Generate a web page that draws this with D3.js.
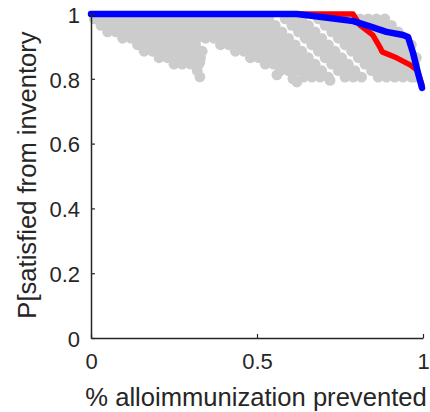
<!DOCTYPE html>
<html><head><meta charset="utf-8">
<script src="https://cdn.jsdelivr.net/npm/d3@7"></script>
<style>html,body{margin:0;padding:0;background:#fff;}svg{display:block;}</style>
</head><body>
<svg id="chart" width="430" height="412"></svg>
<script>
// ---- data ----
const xTicks = [0, 0.5, 1];
const yTicks = [0, 0.2, 0.4, 0.6, 0.8, 1];
const xTickLabels = ["0", "0.5", "1"];
const yTickLabels = ["0", "0.2", "0.4", "0.6", "0.8", "1"];
const xLabel = "% alloimmunization prevented";
const yLabel = "P[satisfied from inventory";

// gray scenario points (diagonal streaks)
const grayStreaks = [
 [[0.01,0.985],[0.03,0.965],[0.05,0.945]],
 [[0.035,0.985],[0.055,0.965],[0.075,0.945],[0.095,0.925]],
 [[0.06,0.985],[0.08,0.965],[0.10,0.945],[0.12,0.925],[0.14,0.905],[0.16,0.885]],
 [[0.085,0.985],[0.105,0.965],[0.125,0.945],[0.145,0.925],[0.165,0.905],[0.185,0.885],[0.205,0.865]],
 [[0.11,0.985],[0.13,0.965],[0.15,0.945],[0.17,0.925],[0.19,0.905],[0.21,0.885],[0.23,0.865],[0.25,0.845]],
 [[0.135,0.985],[0.155,0.965],[0.175,0.945],[0.195,0.925],[0.215,0.905],[0.235,0.885],[0.255,0.865],[0.275,0.845]],
 [[0.16,0.985],[0.18,0.965],[0.20,0.945],[0.22,0.925],[0.24,0.905],[0.26,0.885],[0.28,0.865],[0.30,0.845],[0.32,0.825]],
 [[0.185,0.985],[0.205,0.965],[0.225,0.945],[0.245,0.925],[0.265,0.905],[0.285,0.885],[0.305,0.865],[0.325,0.845]],
 [[0.21,0.985],[0.23,0.965],[0.25,0.945],[0.27,0.925],[0.29,0.905],[0.31,0.885],[0.33,0.865]],
 [[0.235,0.985],[0.255,0.965],[0.275,0.945],[0.295,0.925],[0.315,0.905],[0.335,0.885]],
 [[0.26,0.985],[0.28,0.965],[0.30,0.945],[0.32,0.925]],
 [[0.285,0.985],[0.305,0.965],[0.325,0.945],[0.345,0.925]],
 [[0.31,0.985],[0.33,0.965],[0.35,0.945],[0.37,0.925],[0.39,0.905]],
 [[0.335,0.985],[0.355,0.965],[0.375,0.945],[0.395,0.925],[0.415,0.905],[0.435,0.885]],
 [[0.36,0.985],[0.38,0.965],[0.40,0.945],[0.42,0.925],[0.44,0.905],[0.46,0.885],[0.48,0.865]],
 [[0.385,0.985],[0.405,0.965],[0.425,0.945],[0.445,0.925],[0.465,0.905],[0.485,0.885],[0.505,0.865],[0.525,0.845]],
 [[0.41,0.985],[0.43,0.965],[0.45,0.945],[0.47,0.925],[0.49,0.905],[0.51,0.885],[0.53,0.865],[0.55,0.845],[0.57,0.825]],
 [[0.435,0.985],[0.455,0.965],[0.475,0.945],[0.495,0.925],[0.515,0.905],[0.535,0.885],[0.555,0.865],[0.575,0.845],[0.595,0.825]],
 [[0.46,0.985],[0.48,0.965],[0.50,0.945],[0.52,0.925],[0.54,0.905],[0.56,0.885],[0.58,0.865],[0.60,0.845],[0.62,0.825],[0.64,0.805]],
 [[0.485,0.985],[0.505,0.965],[0.525,0.945],[0.545,0.925],[0.565,0.905],[0.585,0.885],[0.605,0.865],[0.625,0.845],[0.645,0.825],[0.665,0.805]],
 [[0.51,0.985],[0.53,0.965],[0.55,0.945],[0.57,0.925],[0.59,0.905],[0.61,0.885],[0.63,0.865],[0.65,0.845],[0.67,0.825],[0.69,0.805]],
 [[0.535,0.985],[0.555,0.965],[0.575,0.945],[0.595,0.925],[0.615,0.905],[0.635,0.885],[0.655,0.865],[0.675,0.845],[0.695,0.825],[0.715,0.805]],
 [[0.585,0.985],[0.605,0.965],[0.625,0.945],[0.645,0.925],[0.665,0.905],[0.685,0.885],[0.705,0.865],[0.725,0.845],[0.745,0.825],[0.765,0.805]],
 [[0.61,0.985],[0.63,0.965],[0.65,0.945],[0.67,0.925],[0.69,0.905],[0.71,0.885],[0.73,0.865],[0.75,0.845],[0.77,0.825],[0.79,0.805]],
 [[0.635,0.985],[0.655,0.965],[0.675,0.945],[0.695,0.925],[0.715,0.905],[0.735,0.885],[0.755,0.865],[0.775,0.845],[0.795,0.825],[0.815,0.805]],
 [[0.685,0.985],[0.705,0.965],[0.725,0.945],[0.745,0.925],[0.765,0.905],[0.785,0.885],[0.805,0.865],[0.825,0.845],[0.845,0.825],[0.865,0.805]],
 [[0.71,0.985],[0.73,0.965],[0.75,0.945],[0.77,0.925],[0.79,0.905],[0.81,0.885],[0.83,0.865],[0.85,0.845],[0.87,0.825],[0.89,0.805]],
 [[0.735,0.985],[0.755,0.965],[0.775,0.945],[0.795,0.925],[0.815,0.905],[0.835,0.885],[0.855,0.865],[0.875,0.845],[0.895,0.825],[0.915,0.805]],
 [[0.76,0.985],[0.78,0.965],[0.80,0.945],[0.82,0.925],[0.84,0.905],[0.86,0.885],[0.88,0.865],[0.90,0.845],[0.92,0.825],[0.94,0.805]],
 [[0.785,0.985],[0.805,0.965],[0.825,0.945],[0.845,0.925],[0.865,0.905],[0.885,0.885],[0.905,0.865],[0.925,0.845],[0.945,0.825],[0.965,0.805]],
 [[0.81,0.985],[0.83,0.965],[0.85,0.945],[0.87,0.925],[0.89,0.905],[0.91,0.885],[0.93,0.865],[0.95,0.845],[0.97,0.825]],
 [[0.835,0.985],[0.855,0.965],[0.875,0.945],[0.895,0.925],[0.915,0.905],[0.935,0.885],[0.955,0.865],[0.975,0.845]],
 [[0.86,0.985],[0.88,0.965],[0.90,0.945],[0.92,0.925],[0.94,0.905],[0.96,0.885],[0.98,0.865]],
 [[0.885,0.985],[0.905,0.965],[0.925,0.945],[0.945,0.925],[0.965,0.905]]
];
const grayLoose = [[0.328,0.806],[0.328,0.852],[0.56,0.812],[0.608,0.80],[0.62,0.79],[0.72,0.795],[0.975,0.805]];

const redX = [0, 0.789, 0.81, 0.849, 0.87, 0.877, 0.922, 0.961, 0.982, 0.997];
const redY = [1, 1, 0.966, 0.935, 0.898, 0.883, 0.864, 0.843, 0.827, 0.781];
const blueX = [0, 0.62, 0.70, 0.79, 0.84, 0.89, 0.94, 0.955, 0.97, 0.985, 0.997];
const blueY = [1, 1, 0.99, 0.978, 0.962, 0.945, 0.935, 0.929, 0.88, 0.818, 0.772];

// ---- layout ----
const mLeft = 91, mRight = 423, mTop = 14, mBottom = 338;
const x = d3.scaleLinear().domain([0, 1]).range([mLeft, mRight]);
const y = d3.scaleLinear().domain([0, 1]).range([mBottom, mTop]);
const svg = d3.select("#chart");
const axisColor = "#262626";
const font = "'Liberation Sans', Arial, sans-serif";

// gray points
const grayPts = grayStreaks.flat().concat(grayLoose);
svg.append("g").selectAll("circle").data(grayPts).join("circle")
  .attr("cx", d => x(d[0])).attr("cy", d => y(d[1])).attr("r", 5.4)
  .attr("fill", "#cccccc");

// lines
const line = d3.line().x(d => x(d[0])).y(d => y(d[1]));
svg.append("path").datum(redX.map((v, i) => [v, redY[i]]))
  .attr("d", line).attr("fill", "none").attr("stroke", "#ff0000")
  .attr("stroke-width", 5.5).attr("stroke-linejoin", "round").attr("stroke-linecap", "round");
svg.append("path").datum(blueX.map((v, i) => [v, blueY[i]]))
  .attr("d", line).attr("fill", "none").attr("stroke", "#0000ff")
  .attr("stroke-width", 6.5).attr("stroke-linejoin", "round").attr("stroke-linecap", "round");

// axes
const xAxis = d3.axisBottom(x).tickValues(xTicks).tickFormat((d, i) => xTickLabels[i])
  .tickSizeInner(-4).tickSizeOuter(0).tickPadding(14);
const yAxis = d3.axisLeft(y).tickValues(yTicks).tickFormat((d, i) => yTickLabels[i])
  .tickSizeInner(-4).tickSizeOuter(0).tickPadding(11);
const gx = svg.append("g").attr("transform", `translate(0,${mBottom})`).call(xAxis);
const gy = svg.append("g").attr("transform", `translate(${mLeft},0)`).call(yAxis);
[gx, gy].forEach(g => {
  g.select(".domain").attr("stroke", axisColor).attr("stroke-width", 1.5);
  g.selectAll(".tick line").attr("stroke", axisColor).attr("stroke-width", 1.2);
  g.selectAll(".tick text").attr("fill", axisColor).style("font-family", font).style("font-size", "22px");
});
gx.selectAll(".tick text").attr("dy", "0.75em");
gy.selectAll(".tick text").attr("dy", "0.38em");

// labels
svg.append("text").attr("x", 256).attr("y", 406).attr("text-anchor", "middle")
  .attr("fill", axisColor).style("font-family", font).style("font-size", "25.6px").text(xLabel);
svg.append("text").attr("transform", "translate(36,175) rotate(-90)").attr("text-anchor", "middle")
  .attr("fill", axisColor).style("font-family", font).style("font-size", "25.6px").text(yLabel);
</script>
</body></html>
